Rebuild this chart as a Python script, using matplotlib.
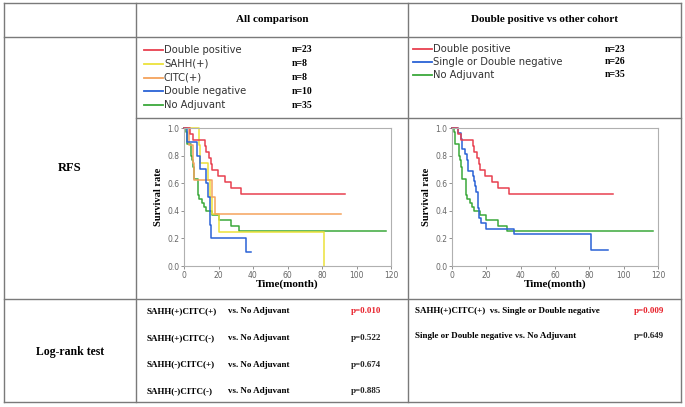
#!/usr/bin/env python3
# -*- coding: utf-8 -*-
"""
RFS table figure: Kaplan-Meier curves + log-rank p-values laid out as a table.
"""

import matplotlib
matplotlib.use('Agg')
import matplotlib.pyplot as plt

# ================= DATA =================
# Left panel (All comparison)
dp_t = [0, 3.5, 5, 12, 13, 14.5, 15.5, 16.5, 19.5, 23.5, 27, 33, 93.5]
dp_s = [1.0, 0.957, 0.913, 0.870, 0.826, 0.783, 0.739, 0.696, 0.652, 0.609, 0.565, 0.522, 0.522]

sahh_t = [0, 8.5, 9, 14, 15, 16, 20, 81]
sahh_s = [1.0, 0.875, 0.75, 0.625, 0.5, 0.375, 0.25, 0.0]

citc_t = [0, 3, 5, 6, 16.5, 18, 91]
citc_s = [1.0, 0.875, 0.75, 0.625, 0.5, 0.375, 0.375]

dn_t = [0, 2, 7.5, 9.5, 12.8, 13.7, 15, 15.3, 15.6, 36, 39]
dn_s = [1.0, 0.9, 0.8, 0.7, 0.6, 0.5, 0.4, 0.3, 0.2, 0.1, 0.1]

na_t = [0, 1, 2, 4, 4.5, 5.3, 6, 8, 8.7, 10.5, 11.5, 13, 16.5, 20, 27, 32, 117]
na_s = [1.0, 0.971, 0.886, 0.800, 0.771, 0.714, 0.629, 0.514, 0.486, 0.457, 0.429,
        0.400, 0.371, 0.333, 0.292, 0.256, 0.256]

# Right panel: single or double negative pooled
sd_t = [0, 3.5, 5, 6, 7.5, 8.5, 9.5, 12.5, 13, 13.5, 14, 15, 15.5, 16, 17, 20, 36, 81, 91]
sd_s = [1.0, 0.962, 0.923, 0.846, 0.808, 0.769, 0.692, 0.654, 0.615, 0.577, 0.538,
        0.423, 0.385, 0.346, 0.308, 0.269, 0.231, 0.115, 0.115]

left_labels = ['Double positive', 'SAHH(+)', 'CITC(+)', 'Double negative', 'No Adjuvant']
left_n = ['n=23', 'n=8', 'n=8', 'n=10', 'n=35']
right_labels = ['Double positive', 'Single or Double negative', 'No Adjuvant']
right_n = ['n=23', 'n=26', 'n=35']

logrank_left = [('SAHH(+)CITC(+)', 'vs. No Adjuvant', 'p=0.010'),
                ('SAHH(+)CITC(-)', 'vs. No Adjuvant', 'p=0.522'),
                ('SAHH(-)CITC(+)', 'vs. No Adjuvant', 'p=0.674'),
                ('SAHH(-)CITC(-)', 'vs. No Adjuvant', 'p=0.885')]
logrank_right = [('SAHH(+)CITC(+)  vs. Single or Double negative', 'p=0.009'),
                 ('Single or Double negative vs. No Adjuvant', 'p=0.649')]

# ================= STYLE =================
RED = '#e8404f'
YEL = '#ece23a'
ORA = '#f5a35c'
BLU = '#2a62d6'
GRN = '#3aa83a'
SERIF = 'Liberation Serif'
W, H = 685, 407

fig = plt.figure(figsize=(W / 100, H / 100), dpi=100)
bg = fig.add_axes([0, 0, 1, 1])
bg.set_xlim(0, W)
bg.set_ylim(H, 0)
bg.axis('off')

# --- table grid ---
lc = '#7a7a7a'
for y in [3, 37, 299, 402]:
    bg.plot([4, 681], [y, y], color=lc, lw=1.0)
bg.plot([136, 681], [118, 118], color=lc, lw=1.0)
for x in [4, 136, 408, 681]:
    bg.plot([x, x], [3, 402], color=lc, lw=1.0)

# --- headers ---
bg.text(272, 20, 'All comparison', family=SERIF, fontweight='bold', fontsize=8,
        ha='center', va='center')
bg.text(545, 20, 'Double positive vs other cohort', family=SERIF, fontweight='bold',
        fontsize=8, ha='center', va='center')
bg.text(70, 168, 'RFS', family=SERIF, fontweight='bold', fontsize=9, ha='center', va='center')
bg.text(70, 352, 'Log-rank test', family=SERIF, fontweight='bold', fontsize=8.5,
        ha='center', va='center')

# --- legends ---
for i, (lab, n, c) in enumerate(zip(left_labels, left_n, [RED, YEL, ORA, BLU, GRN])):
    y = 50 + i * 13.8
    bg.plot([144, 163], [y, y], color=c, lw=1.3)
    bg.text(164, y, lab, fontsize=7.2, color='#333333', va='center')
    bg.text(292, y, n, family=SERIF, fontweight='bold', fontsize=7, va='center')

for i, (lab, n, c) in enumerate(zip(right_labels, right_n, [RED, BLU, GRN])):
    y = 49 + i * 12.8
    bg.plot([413, 432], [y, y], color=c, lw=1.3)
    bg.text(433, y, lab, fontsize=7.2, color='#333333', va='center')
    bg.text(605, y, n, family=SERIF, fontweight='bold', fontsize=7, va='center')

# --- log-rank rows ---
for i, (a, b, p) in enumerate(logrank_left):
    y = 311 + i * 26.8
    bg.text(147, y, a, family=SERIF, fontweight='bold', fontsize=6.5, va='center')
    bg.text(228, y, b, family=SERIF, fontweight='bold', fontsize=6.5, va='center')
    bg.text(351, y, p, family=SERIF, fontweight='bold', fontsize=6.5, va='center',
            color='#e8202a' if i == 0 else '#222222')

for i, (a, p) in enumerate(logrank_right):
    y = 311 + i * 25.5
    bg.text(415, y, a, family=SERIF, fontweight='bold', fontsize=6.5, va='center')
    bg.text(634, y, p, family=SERIF, fontweight='bold', fontsize=6.5, va='center',
            color='#e8202a' if i == 0 else '#222222')


# ================= KM PANELS =================
def km_axes(x0, x1):
    ax = fig.add_axes([x0 / W, (H - 266) / H, (x1 - x0) / W, 138 / H])
    ax.set_xlim(0, 120)
    ax.set_ylim(0, 1.0)
    ax.set_xticks(range(0, 121, 20))
    ax.set_yticks([0, 0.2, 0.4, 0.6, 0.8, 1.0])
    ax.set_yticklabels(['0.0', '0.2', '0.4', '0.6', '0.8', '1.0'])
    ax.tick_params(labelsize=5.5, colors='#666666', length=2, width=0.5, pad=1.5)
    for s in ax.spines.values():
        s.set_color('#b0b0b0')
        s.set_linewidth(0.8)
    ax.set_ylabel('Survival rate', family=SERIF, fontweight='bold', fontsize=7.5, labelpad=3)
    ax.set_xlabel('Time(month)', family=SERIF, fontweight='bold', fontsize=8, labelpad=0)
    return ax


ax1 = km_axes(184, 391)
for t, s, c in [(na_t, na_s, GRN), (sahh_t, sahh_s, YEL), (citc_t, citc_s, ORA),
                (dn_t, dn_s, BLU), (dp_t, dp_s, RED)]:
    ax1.step(t, s, where='post', color=c, lw=1.1, clip_on=False)

ax2 = km_axes(452, 658)
for t, s, c in [(na_t, na_s, GRN), (sd_t, sd_s, BLU), (dp_t, dp_s, RED)]:
    ax2.step(t, s, where='post', color=c, lw=1.1, clip_on=False)

plt.savefig('out.png', dpi=100)
